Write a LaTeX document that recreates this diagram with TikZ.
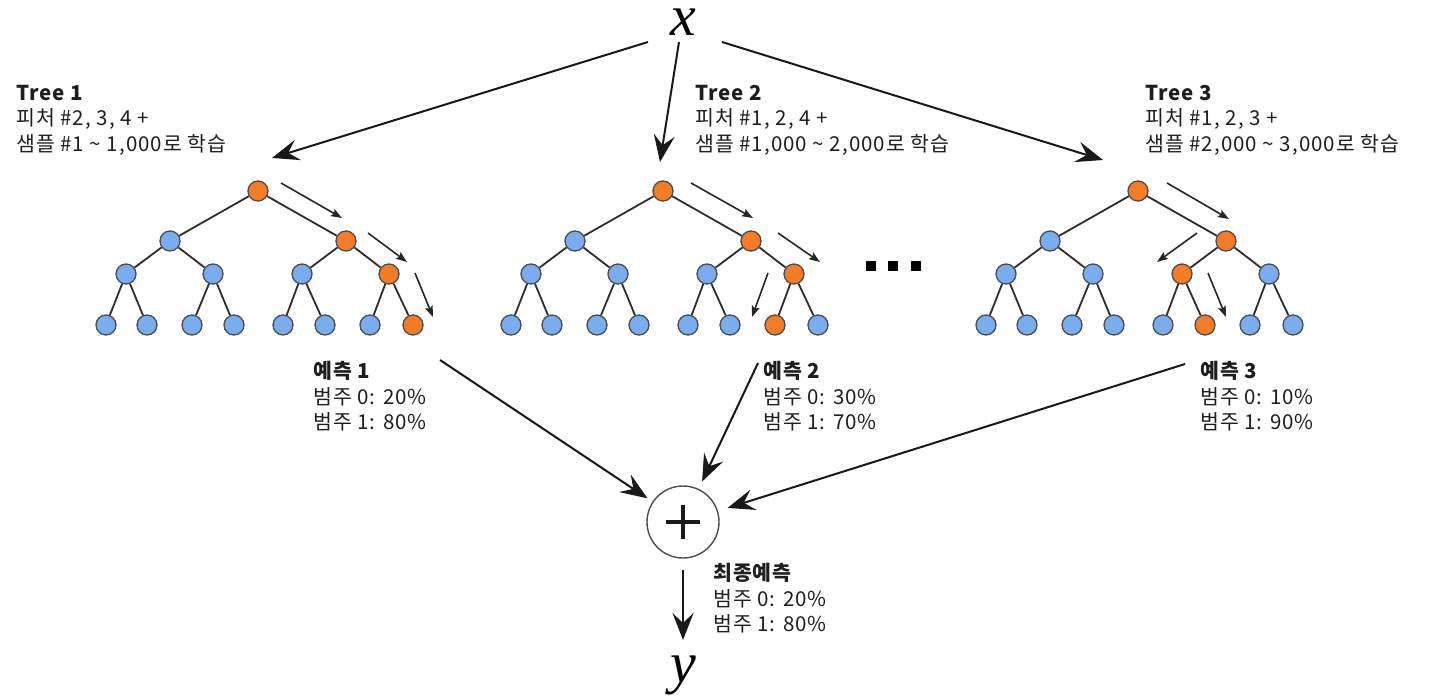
\documentclass[tikz,border=0pt]{standalone}
\usepackage{fontspec}
\setmainfont{Noto Sans CJK KR}[LetterSpace=5]
\newfontfamily\varfont{Liberation Serif}
\usetikzlibrary{arrows.meta}
\definecolor{orng}{RGB}{243,125,38}
\definecolor{blu}{RGB}{122,172,240}
\definecolor{edgegray}{RGB}{45,45,45}
\definecolor{txt}{RGB}{30,30,30}
\begin{document}
\begin{tikzpicture}[x=1pt,y=-1pt,
  nd/.style={circle,draw=edgegray!85,line width=1.3pt,minimum size=20pt,inner sep=0pt},
  edge/.style={draw=edgegray,line width=1.8pt},
  pathar/.style={draw=black!85,line width=1.6pt,-{Stealth[length=11pt,width=8pt,inset=2pt]}},
  bigar/.style={draw=black!90,line width=2pt,-{Stealth[length=27pt,width=21pt,inset=10pt]}},
  lbl/.style={anchor=north west,inner sep=0pt,align=left,text=txt,font=\fontsize{20.5}{25.5}\selectfont},
  var/.style={font=\varfont\itshape\fontsize{58}{58}\selectfont,inner sep=0pt,anchor=base},
  dotsq/.style={rectangle,fill=black,minimum size=10pt,inner sep=0pt}
]
\useasboundingbox[fill=white] (0,0) rectangle (1429,700);

% three decision trees: root x, orange node on level 3, orange leaf
\foreach \t/\rx/\ob/\oc in {1/258/4/8,2/663/4/7,3/1138/3/6}{
  \node[nd,fill=orng] (t\t-r) at (\rx,191) {};
  \node[nd,fill=blu] (t\t-a1) at (\rx-88,241) {};
  \node[nd,fill=orng] (t\t-a2) at (\rx+88,241) {};
  \foreach \k/\dx in {1/-132,2/-45,3/44,4/131}{
    \ifnum\k=\ob\relax\def\fc{orng}\else\def\fc{blu}\fi
    \node[nd,fill=\fc] (t\t-b\k) at (\rx+\dx,274) {};
  }
  \foreach \k/\dx in {1/-152,2/-111,3/-66,4/-24,5/25,6/67,7/112,8/155}{
    \ifnum\k=\oc\relax\def\fc{orng}\else\def\fc{blu}\fi
    \node[nd,fill=\fc] (t\t-c\k) at (\rx+\dx,325) {};
  }
  \draw[edge] (t\t-r) -- (t\t-a1);
  \draw[edge] (t\t-r) -- (t\t-a2);
  \draw[edge] (t\t-a1) -- (t\t-b1);
  \draw[edge] (t\t-a1) -- (t\t-b2);
  \draw[edge] (t\t-a2) -- (t\t-b3);
  \draw[edge] (t\t-a2) -- (t\t-b4);
  \foreach \k in {1,...,4}{
    \pgfmathtruncatemacro\la{2*\k-1}
    \pgfmathtruncatemacro\lb{2*\k}
    \draw[edge] (t\t-b\k) -- (t\t-c\la);
    \draw[edge] (t\t-b\k) -- (t\t-c\lb);
  }
}

% decision paths
\coordinate (p1a) at (281,183); \coordinate (p1b) at (342,218);
\coordinate (p1c) at (368,233); \coordinate (p1d) at (407,262);
\coordinate (p1e) at (415,273); \coordinate (p1f) at (433,317);
\coordinate (p2a) at (691,183); \coordinate (p2b) at (753,218);
\coordinate (p2c) at (778,233); \coordinate (p2d) at (820,262);
\coordinate (p2e) at (768,273); \coordinate (p2f) at (752,317);
\coordinate (p3a) at (1167,183); \coordinate (p3b) at (1229,219);
\coordinate (p3c) at (1197,233); \coordinate (p3d) at (1157,262);
\coordinate (p3e) at (1208,273); \coordinate (p3f) at (1226,317);
\foreach \t in {1,2,3}{
  \draw[pathar] (p\t a) -- (p\t b);
  \draw[pathar] (p\t c) -- (p\t d);
  \draw[pathar] (p\t e) -- (p\t f);
}

% ellipsis between trees
\node[dotsq] (d1) at (871,266) {};
\node[dotsq] (d2) at (893,266) {};
\node[dotsq] (d3) at (916,266) {};

% input and output
\node[var] (x) at (683,36) {x};
\node[var] (y) at (683,682) {y};

% aggregation
\node[circle,draw=black!70,line width=1.4pt,minimum size=72pt,inner sep=0pt,
  path picture={
    \draw[line width=3.6pt,black!90] ([xshift=-17pt]path picture bounding box.center) -- ([xshift=17pt]path picture bounding box.center);
    \draw[line width=3.6pt,black!90] ([yshift=-17pt]path picture bounding box.center) -- ([yshift=17pt]path picture bounding box.center);
  }] (sum) at (683,522) {};

% input arrows
\coordinate (xs1) at (648,42);  \coordinate (xe1) at (272,158);
\coordinate (xs2) at (679,42);  \coordinate (xe2) at (660,162);
\coordinate (xs3) at (722,42);  \coordinate (xe3) at (1103,160);
\draw[bigar] (xs1) -- (xe1);
\draw[bigar] (xs2) -- (xe2);
\draw[bigar] (xs3) -- (xe3);

% prediction arrows
\coordinate (ps1) at (440,360);
\coordinate (ps2) at (758,363);
\coordinate (ps3) at (1185,364);
\draw[bigar,shorten >=6pt] (ps1) -- (sum);
\draw[bigar,shorten >=8pt] (ps2) -- (sum);
\draw[bigar,shorten >=10pt] (ps3) -- (sum);
\coordinate (ys) at (683,570);
\coordinate (ye) at (683,640);
\draw[bigar] (ys) -- (ye);

% labels
\node[lbl] (h1) at (16,85) {\textbf{Tree 1}\\피처 \#2, 3, 4 +\\샘플 \#1 \textasciitilde{} 1,000로 학습};
\node[lbl] (h2) at (695,85) {\textbf{Tree 2}\\피처 \#1, 2, 4 +\\샘플 \#1,000 \textasciitilde{} 2,000로 학습};
\node[lbl] (h3) at (1145,85) {\textbf{Tree 3}\\피처 \#1, 2, 3 +\\샘플 \#2,000 \textasciitilde{} 3,000로 학습};
\node[lbl] (r1) at (313,361) {\textbf{예측 1}\\범주 0: 20\%\\범주 1: 80\%};
\node[lbl] (r2) at (763,361) {\textbf{예측 2}\\범주 0: 30\%\\범주 1: 70\%};
\node[lbl] (r3) at (1200,361) {\textbf{예측 3}\\범주 0: 10\%\\범주 1: 90\%};
\node[lbl] (fin) at (713,563) {\textbf{최종예측}\\범주 0: 20\%\\범주 1: 80\%};
\end{tikzpicture}
\end{document}
